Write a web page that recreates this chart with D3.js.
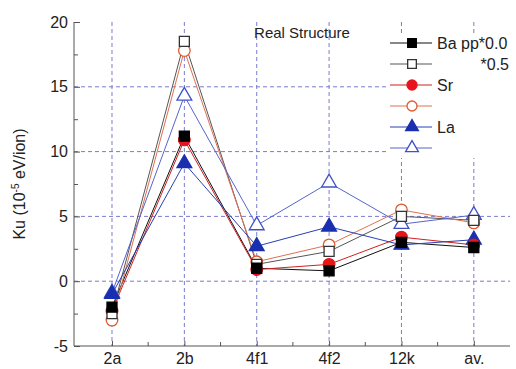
<!DOCTYPE html>
<html><head><meta charset="utf-8">
<script src="https://cdn.jsdelivr.net/npm/d3@7"></script>
<style>body{margin:0;background:#fff}svg{display:block;font-family:"Liberation Sans",Arial,sans-serif}</style>
</head><body><svg id="c" width="516" height="369"></svg>
<script>
const categories = ["2a","2b","4f1","4f2","12k","av."];
const baFilled  = [-2.0, 11.2, 1.0, 0.8, 3.0, 2.6];
const baOpen    = [-2.5, 18.5, 1.3, 2.3, 5.0, 4.7];
const srFilled  = [-2.3, 10.9, 0.9, 1.3, 3.4, 2.8];
const srOpen    = [-3.0, 17.8, 1.5, 2.8, 5.5, 4.5];
const laFilled  = [-1.0, 9.1, 2.7, 4.2, 2.8, 3.2];
const laOpen    = [-0.9, 14.3, 4.3, 7.6, 4.4, 5.1];
const yTicks = [-5, 0, 5, 10, 15, 20];
const legendLabels = ["Ba pp*0.0", "*0.5", "Sr", "", "La", ""];

const series = [
  {vals: baFilled, sym: "square",   fill: true,  color: "#000000", line: "#111111"},
  {vals: baOpen,   sym: "square",   fill: false, color: "#333333", line: "#555555"},
  {vals: srFilled, sym: "circle",   fill: true,  color: "#e8141c", line: "#d02020"},
  {vals: srOpen,   sym: "circle",   fill: false, color: "#e05a30", line: "#e07050"},
  {vals: laFilled, sym: "triangle", fill: true,  color: "#1a2fb0", line: "#2a3fb0"},
  {vals: laOpen,   sym: "triangle", fill: false, color: "#4050c8", line: "#5565cc"}
];

const svg = d3.select("#c");
const x = d3.scaleLinear().domain([-0.525, 5.5]).range([74, 510]);
const y = d3.scaleLinear().domain([-5, 20]).range([346, 22]);
const grid = "#7a7ad0";

// grid
svg.append("g").selectAll("line").data([0,5,10,15]).join("line")
  .attr("x1", 74).attr("x2", 510).attr("y1", d=>y(d)).attr("y2", d=>y(d))
  .attr("stroke", grid).attr("stroke-width", 1).attr("stroke-dasharray", "4,3");
svg.append("g").selectAll("line").data(d3.range(categories.length)).join("line")
  .attr("x1", d=>x(d)).attr("x2", d=>x(d)).attr("y1", 22).attr("y2", 346)
  .attr("stroke", grid).attr("stroke-width", 1).attr("stroke-dasharray", "4,3");

// axes
const yAxis = d3.axisLeft(y).tickValues(d3.range(-5, 20.1, 2.5)).tickSize(-5)
  .tickFormat(d => yTicks.includes(d) ? d : "");
const gy = svg.append("g").attr("transform", "translate(74,0)").call(yAxis);
gy.selectAll("text").attr("x", -6).style("font-size", "16px").attr("fill", "#222");
gy.selectAll(".tick line").attr("x2", d => yTicks.includes(d) ? 6 : 4).attr("stroke", "#555");
gy.select(".domain").attr("stroke", "#555").attr("d", "M0,22V346");

const xAxis = d3.axisBottom(x).tickValues(d3.range(0, 6)).tickSize(-5)
  .tickFormat(i => categories[i]);
const gx = svg.append("g").attr("transform", "translate(0,346)").call(xAxis);
gx.selectAll("text").attr("y", 7).style("font-size", "16px").attr("fill", "#222");
gx.selectAll(".tick line").attr("stroke", "#555");
gx.select(".domain").attr("stroke", "#555").attr("d", "M74,0H510");
// minor x ticks
svg.append("g").selectAll("line").data(d3.range(0, 5).map(i => i + 0.5)).join("line")
  .attr("x1", d=>x(d)).attr("x2", d=>x(d)).attr("y1", 346).attr("y2", 342).attr("stroke", "#555");

// y label
svg.append("text").attr("transform", "translate(25,184) rotate(-90)")
  .attr("text-anchor", "middle").style("font-size", "16px").attr("fill", "#222")
  .html('Ku (10<tspan dy="-6" font-size="10">-5</tspan><tspan dy="6"> eV/ion)</tspan>');

// title
svg.append("text").attr("x", 302).attr("y", 38).attr("text-anchor", "middle")
  .style("font-size", "15px").attr("fill", "#222").text("Real Structure");

function symbolPath(sym, scale) {
  const t = sym === "square" ? d3.symbolSquare : sym === "circle" ? d3.symbolCircle : d3.symbolTriangle;
  const size = sym === "square" ? 100 : sym === "circle" ? 105 : 95;
  return d3.symbol().type(t).size(size * scale)();
}

const line = d3.line().x((d,i)=>x(i)).y(d=>y(d));
series.forEach(s => {
  svg.append("path").datum(s.vals).attr("d", line).attr("fill", "none")
    .attr("stroke", s.line).attr("stroke-width", 1);
});
series.slice().reverse().forEach(s => {
  svg.append("g").selectAll("path").data(s.vals).join("path")
    .attr("d", symbolPath(s.sym, 1))
    .attr("transform", (d,i)=>`translate(${x(i)},${y(d)})`)
    .attr("fill", s.fill ? s.color : "#fff")
    .attr("stroke", s.color).attr("stroke-width", 1.3);
});

// legend
const lg = svg.append("g");
lg.append("rect").attr("x", 386).attr("y", 33).attr("width", 128).attr("height", 125).attr("fill", "#fff");
series.forEach((s, i) => {
  const yy = 43 + i * 21;
  lg.append("line").attr("x1", 390).attr("x2", 432).attr("y1", yy).attr("y2", yy)
    .attr("stroke", s.line).attr("stroke-width", 1);
  lg.append("path").attr("d", symbolPath(s.sym, 0.75)).attr("transform", `translate(412,${yy})`)
    .attr("fill", s.fill ? s.color : "#fff").attr("stroke", s.color).attr("stroke-width", 1.3);
  const lbl = legendLabels[i];
  if (lbl) {
    const t = lg.append("text").attr("y", yy + 6).style("font-size", "16px")
      .attr("fill", "#222").text(lbl);
    if (lbl === "*0.5") t.attr("x", 509).attr("text-anchor", "end");
    else t.attr("x", 437);
  }
});
</script></body></html>
